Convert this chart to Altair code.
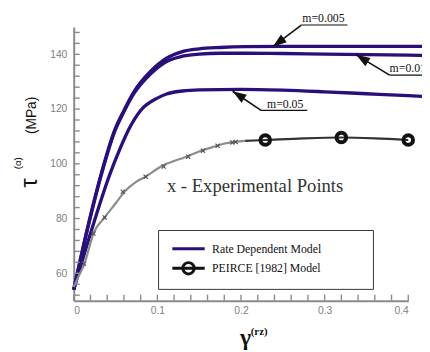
import altair as alt
import pandas as pd

# ---------------- data ----------------
# Rate dependent model curves
gamma_rd_a = [0, 0.0176, 0.033, 0.049, 0.06, 0.072, 0.092, 0.111, 0.13, 0.15, 0.175, 0.205, 0.25, 0.3, 0.35, 0.4, 0.418]
tau_m0005 = [54, 78, 96.5, 112.3, 119.5, 126.3, 133.8, 138.6, 141.0, 142.0, 142.5, 142.8, 142.9, 142.9, 142.9, 142.9, 142.9]
tau_m001 = [54, 77.6, 96.0, 111.8, 119.0, 125.7, 132.9, 137.4, 139.3, 140.1, 140.4, 140.4, 140.3, 140.1, 139.9, 139.7, 139.6]
gamma_rd_b = [0, 0.02, 0.043, 0.056, 0.0665, 0.08, 0.1, 0.111, 0.13, 0.15, 0.2, 0.25, 0.3, 0.35, 0.4, 0.418]
tau_m005 = [54, 74.5, 96, 106, 113, 119.5, 124, 125.5, 126.6, 127, 127.2, 126.9, 126.3, 125.6, 124.9, 124.6]

# Experimental curve
gamma_exp = [0, 0.006, 0.0137, 0.0176, 0.023, 0.037, 0.05, 0.061, 0.075, 0.086, 0.1, 0.107, 0.12, 0.133, 0.15, 0.165, 0.182, 0.205]
tau_exp = [55, 59, 64.2, 68.4, 74, 80.4, 85.5, 89.9, 93.5, 95.3, 98.2, 99.5, 101, 102.4, 104.5, 106, 107.5, 108.4]
# Experimental "x" points
gamma_xpts = [0.012, 0.0235, 0.037, 0.0587, 0.086, 0.1075, 0.1369, 0.1545, 0.172, 0.1897, 0.1935]
tau_xpts = [63.5, 74.5, 80.4, 89.8, 95.3, 99.0, 102.6, 104.8, 106.6, 107.8, 108.0]

# PEIRCE [1982] model
gamma_peirce = [0.205, 0.229, 0.275, 0.32, 0.36, 0.4]
tau_peirce = [108.4, 108.7, 109.3, 109.6, 109.3, 108.7]
gamma_circles = [0.229, 0.32, 0.4]
tau_circles = [108.7, 109.6, 108.7]

series_names = ["Rate Dependent Model", "PEIRCE [1982] Model"]

# annotations (m labels with arrows)
ann_label = ["m=0.005", "m=0.01", "m=0.05"]
ann_text_x = [0.2733, 0.3777, 0.2311]
ann_text_y = [151.8, 133.5, 120.4]
ann_line_x1 = [0.2721, 0.3777, 0.2240]
ann_line_x2 = [0.3273, 0.43, 0.2792]
ann_line_y = [150.7, 132.4, 119.5]
ann_tip_x = [0.2381, 0.3378, 0.19]
ann_tip_y = [142.8, 139.8, 126.5]
ann_angle = [233, 302, 303]

exp_label = ["x - Experimental Points"]
exp_label_x = [0.1114]
exp_label_y = [91.9]

# axis titles (placed in data units around the plot)
xt_text = ["γ", "(rz)"]
xt_x = [0.2053, 0.2217]
xt_y = [33.9, 37.3]
xt_size = [24, 11]
yt_text = ["τ", "(α)", "(MPa)"]
yt_x = [-0.0434, -0.0633, -0.0457]
yt_y = [93.0, 100.2, 117.7]
yt_size = [24, 10, 14]

x_ticks_major = [0, 0.1, 0.2, 0.3, 0.4]
x_ticks_minor = [0, 0.02, 0.04, 0.06, 0.08, 0.1, 0.12, 0.14, 0.16, 0.18, 0.2,
                 0.22, 0.24, 0.26, 0.28, 0.3, 0.32, 0.34, 0.36, 0.38, 0.4]
y_ticks_major = [60, 80, 100, 120, 140]
y_ticks_minor = [52, 56, 60, 64, 68, 72, 76, 80, 84, 88, 92, 96, 100, 104, 108,
                 112, 116, 120, 124, 128, 132, 136, 140, 144, 148]

# ---------------- tables ----------------
rd_rows = []
for m, gs, ts in [("m=0.005", gamma_rd_a, tau_m0005), ("m=0.01", gamma_rd_a, tau_m001),
                  ("m=0.05", gamma_rd_b, tau_m005)]:
    for g, t in zip(gs, ts):
        rd_rows.append({"gamma": g, "tau": t, "m": m})
rd_df = pd.DataFrame(rd_rows)
exp_df = pd.DataFrame({"gamma": gamma_exp, "tau": tau_exp})
xpts_df = pd.DataFrame({"gamma": gamma_xpts, "tau": tau_xpts})
peirce_df = pd.DataFrame({"gamma": gamma_peirce, "tau": tau_peirce})
circ_df = pd.DataFrame({"gamma": gamma_circles, "tau": tau_circles})
leg_df = pd.DataFrame({"gamma": [0, 0], "tau": [0, 0], "series": series_names})
ann_df = pd.DataFrame({"label": ann_label, "tx": ann_text_x, "ty": ann_text_y,
                       "lx1": ann_line_x1, "lx2": ann_line_x2, "ly": ann_line_y,
                       "px": ann_tip_x, "py": ann_tip_y, "ang": ann_angle})
lab_df = pd.DataFrame({"label": exp_label, "x": exp_label_x, "y": exp_label_y})
xt_df = pd.DataFrame({"t": xt_text, "x": xt_x, "y": xt_y, "fs": xt_size})
yt_df = pd.DataFrame({"t": yt_text, "x": yt_x, "y": yt_y, "fs": yt_size})
# inward tick marks (6 px long) drawn through the scales
xtick_df = pd.DataFrame({"gamma": x_ticks_minor, "y0": 50.0, "y1": 52.2})
ytick_df = pd.DataFrame({"tau": y_ticks_minor, "x0": 0.0, "x1": 0.0072})

BLUE = "#2a0e7a"
AXC = "#8a8a8a"
xs = alt.Scale(domain=[0, 0.4], nice=False, zero=False)
ys = alt.Scale(domain=[50, 150], nice=False, zero=False)


def X(field, axis=None):
    if axis is None:
        return alt.X(field, type="quantitative", scale=xs, axis=None)
    return alt.X(field, type="quantitative", scale=xs, axis=axis)


def Y(field, axis=None):
    if axis is None:
        return alt.Y(field, type="quantitative", scale=ys, axis=None)
    return alt.Y(field, type="quantitative", scale=ys, axis=axis)


x_axis_main = alt.Axis(orient="bottom", values=x_ticks_major, format="~g", ticks=False, tickSize=0,
                       labelPadding=5, labelFont="Liberation Sans", labelFontSize=10.5,
                       labelColor="#808080", domainColor=AXC, domainWidth=2, grid=False, title=None)
y_axis_main = alt.Axis(orient="left", values=y_ticks_major, format="d", ticks=False, tickSize=0,
                       labelPadding=7, labelFont="Liberation Sans", labelFontSize=10.5,
                       labelColor="#808080", domainColor=AXC, domainWidth=2, grid=False, title=None)

blue = alt.Chart(rd_df).mark_line(color=BLUE, strokeWidth=3.4, interpolate="monotone").encode(
    x=X("gamma", x_axis_main), y=Y("tau", y_axis_main), detail="m:N")
xticks = alt.Chart(xtick_df).mark_rule(color=AXC, strokeWidth=1.4).encode(
    x=X("gamma"), y=Y("y0"), y2="y1")
yticks = alt.Chart(ytick_df).mark_rule(color=AXC, strokeWidth=1.4).encode(
    y=Y("tau"), x=X("x0"), x2="x1")
exp_line = alt.Chart(exp_df).mark_line(color="#8c8c8c", strokeWidth=2.2, interpolate="monotone").encode(
    x=X("gamma"), y=Y("tau"))
peirce_line = alt.Chart(peirce_df).mark_line(color="#333333", strokeWidth=2.2, interpolate="monotone").encode(
    x=X("gamma"), y=Y("tau"))
xpts = alt.Chart(xpts_df).mark_point(shape="M-1,-1L1,1M-1,1L1,-1", size=18, color="#555",
                                     strokeWidth=1.2, opacity=1).encode(x=X("gamma"), y=Y("tau"))
circles = alt.Chart(circ_df).mark_point(shape="circle", size=95, filled=False, color="#111",
                                        strokeWidth=4, opacity=1).encode(x=X("gamma"), y=Y("tau"))

peirce_sym = "M-2,0H2M0.7,0A0.7,0.7,0,1,1,-0.7,0A0.7,0.7,0,1,1,0.7,0"
rate_sym = "M-2,0H2"
legend = alt.Chart(leg_df).transform_filter("datum.tau > 0").mark_point(
    filled=False, strokeWidth=3, opacity=1).encode(
    x=X("gamma"), y=Y("tau"),
    color=alt.Color("series:N", scale=alt.Scale(domain=series_names, range=[BLUE, "#111"]),
                    legend=alt.Legend(orient="none", legendX=86, legendY=207,
                                      title="MMMM", titleOrient="right", titleColor="white",
                                      titleFontSize=12, titlePadding=4,
                                      strokeColor="#333", fillColor="white", padding=9,
                                      symbolSize=272, symbolStrokeWidth=3, symbolOffset=12,
                                      labelFont="Liberation Serif", labelFontSize=12,
                                      labelColor="#111", labelOffset=14, rowPadding=2)),
    shape=alt.Shape("series:N", scale=alt.Scale(domain=series_names, range=[rate_sym, peirce_sym])))

arrows = alt.Chart(ann_df).mark_rule(color="#111", strokeWidth=1.6).encode(
    x=X("lx1"), y=Y("ly"), x2="px", y2="py")
underline = alt.Chart(ann_df).mark_rule(color="#111", strokeWidth=1.2).encode(
    x=X("lx1"), x2="lx2", y=Y("ly"))
heads = alt.Chart(ann_df).mark_point(shape="M0,0L0.7,2L-0.7,2Z", filled=True, size=196,
                                     color="#111", opacity=1).encode(
    x=X("px"), y=Y("py"), angle=alt.Angle("ang:Q", scale=None))
ann_text = alt.Chart(ann_df).mark_text(align="left", baseline="alphabetic", font="Liberation Serif",
                                       fontSize=12, color="#111").encode(
    x=X("tx"), y=Y("ty"), text="label:N")
exp_text = alt.Chart(lab_df).mark_text(align="left", baseline="middle", font="Liberation Serif",
                                       fontSize=19, color="#333").encode(
    x=X("x"), y=Y("y"), text="label:N")
x_title = alt.Chart(xt_df).mark_text(align="center", baseline="alphabetic", font="Liberation Serif",
                                     fontWeight="bold", color="#111").encode(
    x=X("x"), y=Y("y"), text="t:N", size=alt.Size("fs:Q", scale=None, legend=None))
y_title = alt.Chart(yt_df).mark_text(align="center", baseline="alphabetic", font="Liberation Sans",
                                     angle=270, color="#111").encode(
    x=X("x"), y=Y("y"), text="t:N", size=alt.Size("fs:Q", scale=None, legend=None))

chart = alt.layer(blue, xticks, yticks, exp_line, peirce_line, xpts, circles, legend, arrows,
                  underline, heads, ann_text, exp_text, x_title, y_title).resolve_axis(
    x="independent", y="independent").properties(
    width=341, height=279,
    padding={"left": 67, "top": 16, "right": 14, "bottom": 48},
    autosize=alt.AutoSizeParams(type="none"),
    background="white",
).configure_view(strokeOpacity=0)

chart.save("out.html", embed_options={"renderer": "svg", "actions": False})
